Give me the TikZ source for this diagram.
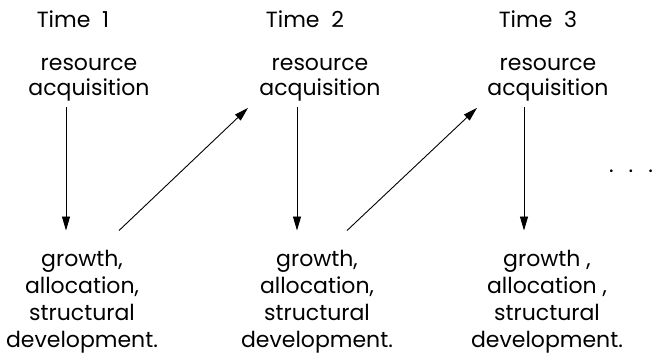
\documentclass[tikz,border=0pt]{standalone}
\usepackage{fontspec}
\setmainfont{Poppins}
\usetikzlibrary{arrows.meta,calc}
\tikzset{
  label/.style={inner sep=0pt, align=center, anchor=base,
    font=\fontsize{22}{25}\selectfont},
  stage/.style={inner sep=0pt, align=center, anchor=base,
    font=\fontsize{22}{27}\selectfont},
  arr/.style={line width=0.9pt, -{Triangle[length=14pt,width=8pt]}},
}
\begin{document}
\begin{tikzpicture}[x=1pt,y=1pt]
\useasboundingbox (0,0) rectangle (653,-357);

% time headings
\node[label] (t1) at (73,-27) {Time~~1};
\node[label] (t2) at (305,-27) {Time~~2};
\node[label] (t3) at (538,-27) {Time~~3};

% acquisition step at each time (base = last line)
\node[label] (r1) at (89,-95) {resource\\acquisition};
\node[label] (r2) at (320,-95) {resource\\acquisition};
\node[label] (r3) at (548,-95) {resource\\acquisition};

% growth step at each time (base = last line)
\node[stage] (g1) at (82,-347) {growth,\\allocation,\\structural\\development.};
\node[stage] (g2) at (317,-347) {growth,\\allocation,\\structural\\development.};
\node[stage] (g3) at (547,-347) {growth ,\\allocation ,\\structural\\development.};

% continuation
\node[label] (more) at (631,-172) {.\hspace{15pt}.\hspace{15pt}.};

% arrow columns
\coordinate (v1) at (66,0);
\coordinate (v2) at (297,0);
\coordinate (v3) at (524,0);
\coordinate (d1a) at (119,0);
\coordinate (d1b) at (248,0);
\coordinate (d2a) at (347,0);
\coordinate (d2b) at (477,0);

\draw[arr] ($(r1.south -| v1)+(0,-6)$) -- ($(g1.north -| v1)+(0,19)$);
\draw[arr] ($(r2.south -| v2)+(0,-6)$) -- ($(g2.north -| v2)+(0,19)$);
\draw[arr] ($(r3.south -| v3)+(0,-6)$) -- ($(g3.north -| v3)+(0,19)$);
\draw[arr] ($(g1.north -| d1a)+(0,19)$) -- ($(r2.south -| d1b)+(0,-7)$);
\draw[arr] ($(g2.north -| d2a)+(0,19)$) -- ($(r3.south -| d2b)+(0,-7)$);
\end{tikzpicture}
\end{document}
